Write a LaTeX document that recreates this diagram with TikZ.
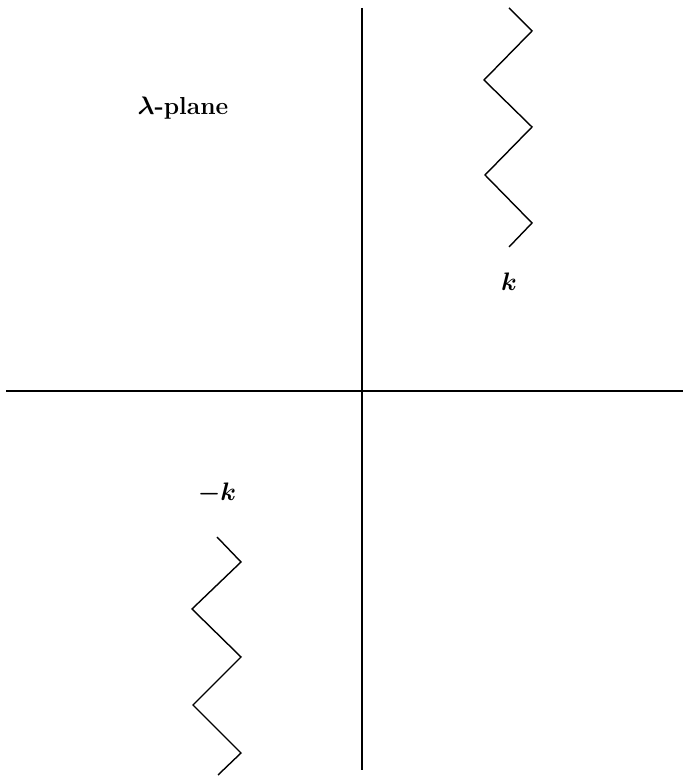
\documentclass[tikz,border=0pt]{standalone}
\begin{document}
\begin{tikzpicture}[
    x=0.02cm, y=0.02cm,
    line width=0.8pt,
    every node/.style={font=\fontsize{14}{17}\selectfont\bfseries\mathversion{bold}},
    axis/.style={line width=0.8pt},
    cut/.style={line width=0.8pt, line join=miter}
]
    \useasboundingbox (0,0) rectangle (683,776);

    % Axes
    \coordinate (top) at (362,768);
    \coordinate (bottom) at (362,6);
    \coordinate (left) at (6,385);
    \coordinate (right) at (683,385);
    \draw[axis] (top) -- (bottom);
    \draw[axis] (left) -- (right);

    % Branch cut from k upwards
    \draw[cut] (509,768) -- (532,745) -- (484,696) -- (532,649)
        -- (485,601) -- (532,553) -- (509,529);

    % Branch cut from -k downwards
    \draw[cut] (217,239) -- (241,214) -- (192,167) -- (241,119)
        -- (193,71) -- (241,23) -- (218,1);

    % Labels
    \node (plane) at (183,668) {$\lambda$-plane};
    \node (kp) at (509,494) {$k$};
    \node (km) at (217,283) {$-k$};
\end{tikzpicture}
\end{document}
